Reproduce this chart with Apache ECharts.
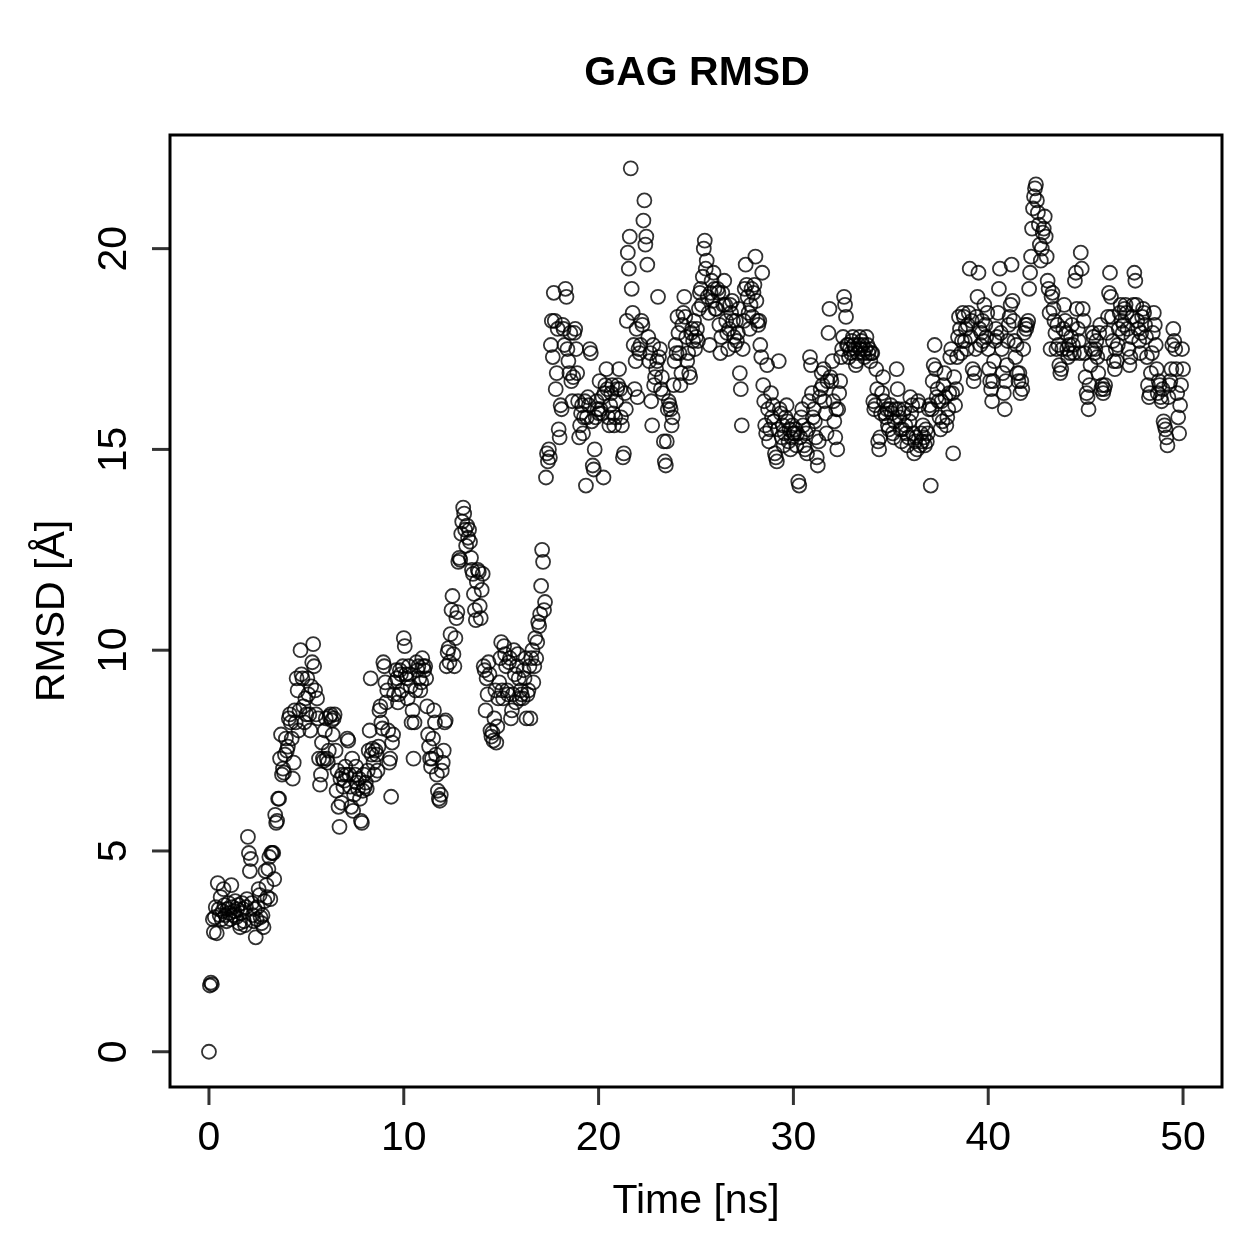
<!DOCTYPE html>
<html lang="en">
<head>
    <meta charset="UTF-8">
    <title>GAG RMSD</title>
    <script src="https://cdn.jsdelivr.net/npm/echarts@6/dist/echarts.min.js"></script>
    <style>
        html, body { margin: 0; padding: 0; background: #fff; }
    </style>
</head>
<body>
<div id="main" style="width: 1259px;height:1259px;"></div>
<script type="text/javascript">

    // one frame every 0.05 ns, first frame at t = 0
    var timeStep = 0.05;
    var xTicks = [0, 10, 20, 30, 40, 50];
    var yTicks = [0, 5, 10, 15, 20];

    // RMSD [A], one row per ns
    var rmsd = [0,
        1.65, 1.72, 1.68, 3.30, 2.98, 3.35, 3.60, 2.95, 4.20, 3.55, 3.40, 3.85, 3.30, 3.50, 4.05, 3.65, 3.40, 3.25, 3.55, 3.70,
        3.45, 3.30, 4.15, 3.60, 3.40, 3.50, 3.75, 3.35, 3.55, 3.65, 3.20, 3.10, 3.45, 3.70, 3.55, 3.25, 3.15, 3.60, 3.80, 5.35,
        4.95, 4.50, 4.80, 3.70, 3.40, 3.25, 3.55, 2.85, 3.30, 3.60, 4.05, 3.90, 3.35, 3.20, 3.40, 3.10, 3.75, 4.50, 4.15, 3.85,
        4.55, 4.85, 3.80, 4.95, 4.95, 4.95, 4.30, 5.90, 5.70, 5.75, 6.30, 6.30, 7.30, 7.90, 6.90, 7.05, 6.95, 7.40, 7.80, 7.50,
        7.60, 8.30, 8.40, 8.20, 7.80, 6.80, 7.20, 8.50, 8.20, 9.30, 9.00, 8.00, 8.50, 10.00, 9.40, 9.30, 8.60, 8.20, 8.80, 8.40,
        9.30, 8.90, 8.40, 8.00, 9.10, 9.70, 10.15, 9.60, 9.00, 8.40, 8.80, 8.30, 7.30, 6.65, 6.90, 7.70, 7.30, 7.25, 8.00, 8.30,
        7.30, 7.20, 7.50, 8.35, 8.40, 8.25, 7.90, 8.30, 8.40, 7.50, 6.50, 7.00, 6.10, 5.60, 6.80, 6.20, 6.90, 6.60, 6.75, 7.10,
        6.90, 7.80, 7.75, 6.90, 6.60, 6.10, 7.30, 6.00, 6.40, 6.90, 7.10, 6.70, 6.55, 6.80, 6.30, 5.75, 5.70, 6.50, 6.90, 6.60,
        6.70, 6.55, 7.00, 7.50, 8.00, 9.30, 7.40, 7.55, 7.20, 6.90, 7.50, 7.40, 7.00, 7.60, 8.50, 8.60, 8.20, 8.05, 9.70, 9.60,
        9.20, 8.70, 9.00, 8.00, 7.20, 7.30, 6.35, 7.70, 7.90, 8.90, 9.20, 9.50, 9.30, 8.70, 8.90, 9.50, 9.40, 9.00, 9.60, 10.30,
        10.10, 9.40, 9.30, 8.80, 9.60, 9.40, 9.10, 8.20, 8.50, 7.30, 8.20, 9.00, 9.70, 9.50, 9.60, 9.30, 9.00, 9.20, 9.80, 9.60,
        9.50, 9.60, 9.30, 8.60, 7.90, 7.60, 7.30, 7.10, 7.30, 7.80, 8.50, 8.20, 7.40, 6.90, 6.50, 6.30, 6.25, 6.40, 7.00, 7.20,
        7.50, 8.20, 8.25, 9.60, 9.95, 10.05, 9.70, 10.40, 11.00, 11.35, 9.90, 9.60, 10.30, 10.80, 10.95, 12.20, 12.30, 12.25, 12.90, 13.20,
        13.55, 13.40, 13.00, 12.60, 13.10, 12.80, 13.00, 12.70, 12.30, 12.00, 11.90, 11.40, 11.00, 10.75, 11.70, 12.00, 11.95, 11.10, 10.80, 11.50,
        11.90, 9.60, 9.50, 8.50, 9.30, 8.90, 9.70, 9.40, 8.00, 7.85, 7.95, 7.75, 8.30, 9.00, 7.70, 8.10, 8.80, 9.20, 9.80, 10.20,
        9.00, 8.80, 10.10, 9.90, 9.60, 9.00, 8.90, 9.70, 9.80, 8.30, 8.50, 8.90, 10.00, 9.40, 8.70, 9.60, 9.90, 9.30, 8.80, 9.00,
        8.90, 8.80, 9.50, 9.30, 9.80, 8.30, 8.90, 9.00, 9.60, 8.30, 9.80, 10.00, 9.20, 9.60, 10.30, 9.80, 10.20, 10.70, 10.60, 10.90,
        11.60, 12.50, 12.20, 11.00, 11.20, 14.30, 14.90, 14.70, 15.00, 14.80, 17.60, 18.20, 17.30, 18.90, 18.20, 16.50, 16.90, 18.00, 15.50, 15.30,
        16.10, 16.00, 18.10, 18.00, 17.60, 19.00, 18.80, 17.50, 17.20, 16.90, 17.90, 16.70, 16.20, 16.80, 17.90, 18.00, 17.50, 16.90, 16.20, 15.30,
        15.60, 15.90, 16.10, 15.40, 15.80, 16.20, 14.10, 15.80, 16.30, 16.10, 17.50, 17.40, 15.70, 14.60, 14.50, 15.00, 15.80, 16.20, 16.00, 15.90,
        16.70, 16.00, 15.90, 16.30, 14.30, 16.40, 16.60, 17.00, 16.50, 15.80, 15.60, 16.10, 16.40, 16.60, 15.90, 15.60, 15.80, 16.20, 16.50, 16.60,
        17.00, 16.50, 15.80, 15.60, 14.80, 14.90, 16.40, 16.00, 18.20, 19.90, 19.50, 20.30, 22.00, 19.00, 18.40, 17.60, 16.50, 17.20, 18.00, 16.30,
        17.50, 17.40, 17.60, 18.20, 18.10, 20.70, 21.20, 20.10, 20.30, 19.60, 17.80, 17.20, 17.40, 16.20, 15.60, 17.60, 16.60, 16.80, 17.00, 17.20,
        18.80, 17.30, 17.50, 16.50, 16.80, 16.40, 15.20, 14.70, 14.60, 15.20, 16.00, 16.20, 16.10, 16.00, 15.60, 15.80, 16.60, 17.20, 17.60, 17.40,
        18.30, 17.90, 17.40, 16.60, 16.90, 18.10, 18.40, 18.80, 18.30, 17.80, 17.20, 17.40, 16.90, 16.80, 17.90, 18.00, 17.70, 18.20, 17.50, 17.80,
        18.00, 17.70, 18.50, 18.90, 19.00, 18.60, 19.30, 20.00, 20.20, 19.50, 19.70, 18.80, 18.40, 17.60, 18.90, 19.20, 18.70, 19.40, 19.00, 18.50,
        18.50, 19.00, 18.90, 18.10, 17.40, 17.80, 18.90, 18.60, 19.20, 18.60, 18.20, 17.90, 17.50, 18.00, 18.60, 18.40, 18.70, 18.20, 17.80, 17.60,
        18.20, 17.70, 17.90, 18.50, 16.90, 16.50, 15.60, 17.50, 18.20, 19.00, 19.60, 19.10, 18.80, 18.40, 18.00, 18.60, 19.00, 18.30, 18.90, 19.10,
        19.80, 18.70, 18.20, 18.10, 18.20, 17.60, 17.30, 19.40, 16.60, 16.20, 15.60, 15.40, 17.10, 16.00, 15.20, 15.50, 16.40, 15.80, 16.10, 15.70,
        14.90, 14.80, 14.70, 15.50, 17.20, 16.00, 15.90, 15.30, 15.60, 15.10, 15.40, 15.80, 16.10, 15.70, 15.20, 15.50, 15.00, 15.30, 15.60, 15.40,
        15.40, 15.50, 15.10, 15.40, 14.20, 14.10, 15.30, 15.80, 16.00, 15.60, 15.10, 15.00, 15.40, 14.90, 15.50, 16.20, 17.30, 17.10, 16.40, 15.80,
        16.00, 15.70, 15.30, 14.80, 14.60, 15.20, 16.30, 16.50, 16.90, 16.60, 17.00, 16.20, 15.90, 15.40, 16.70, 17.90, 18.50, 16.80, 16.70, 17.20,
        16.20, 15.70, 15.30, 16.00, 15.00, 16.00, 16.40, 16.70, 17.30, 17.50, 17.80, 18.80, 18.60, 18.30, 17.60, 17.60, 17.30, 17.50, 17.40, 17.70,
        17.80, 17.60, 17.50, 17.10, 17.20, 17.40, 17.60, 17.80, 17.50, 17.70, 17.60, 17.40, 17.30, 17.50, 17.80, 17.60, 17.40, 17.50, 17.20, 17.40,
        17.40, 16.20, 16.00, 16.10, 17.00, 16.50, 15.20, 15.00, 15.30, 15.90, 16.40, 16.80, 16.20, 15.90, 15.80, 16.00, 15.60, 15.50, 16.00, 16.10,
        15.90, 15.40, 15.30, 15.70, 16.00, 17.00, 16.50, 16.00, 15.80, 15.50, 15.20, 15.50, 15.90, 16.00, 15.60, 15.40, 15.10, 15.30, 15.70, 16.30,
        15.90, 16.10, 15.40, 14.90, 15.20, 15.30, 15.00, 16.20, 16.10, 15.10, 15.40, 15.20, 15.60, 15.30, 15.10, 15.50, 15.20, 15.40, 16.00, 16.10,
        14.10, 16.00, 16.70, 17.10, 17.60, 17.00, 16.30, 16.50, 16.20, 15.80, 15.50, 16.20, 15.70, 16.60, 16.90, 16.30, 15.60, 15.80, 16.00, 16.40,
        17.30, 17.50, 16.40, 14.90, 16.80, 16.10, 16.50, 17.30, 17.80, 18.30, 18.00, 17.40, 17.70, 18.40, 18.30, 17.70, 18.00, 17.50, 18.10, 18.40,
        19.50, 17.80, 18.20, 17.00, 16.70, 16.90, 17.50, 18.30, 18.80, 19.40, 18.00, 17.60, 17.90, 18.20, 17.70, 18.60, 18.10, 17.80, 18.40, 17.50,
        17.00, 16.70, 16.50, 16.20, 16.70, 17.20, 17.70, 18.00, 17.80, 18.40, 19.00, 19.50, 17.90, 17.50, 16.90, 16.40, 16.00, 16.70, 17.10, 17.70,
        18.10, 18.30, 18.60, 19.60, 18.70, 18.20, 17.70, 17.30, 17.60, 16.90, 16.70, 16.90, 16.40, 16.70, 16.50, 17.50, 17.90, 18.10, 18.00, 18.10,
        18.20, 19.00, 19.40, 19.80, 20.50, 21.00, 21.30, 21.50, 21.60, 21.20, 20.90, 20.60, 20.10, 19.70, 20.00, 20.40, 20.50, 20.80, 20.30, 19.80,
        19.20, 19.00, 18.40, 17.50, 18.80, 18.90, 18.50, 18.20, 17.90, 17.50, 18.10, 17.60, 17.10, 16.90, 17.00, 17.50, 18.00, 18.60, 18.20, 17.90,
        17.50, 17.30, 17.60, 17.40, 17.80, 18.10, 17.60, 17.40, 19.20, 19.40, 18.50, 18.00, 17.70, 17.40, 19.90, 19.50, 18.50, 18.20, 17.40, 16.80,
        16.40, 16.30, 16.00, 16.60, 17.10, 17.50, 17.90, 17.80, 17.40, 17.50, 17.70, 17.30, 16.90, 17.90, 18.10, 16.50, 16.60, 16.40, 16.50, 16.60,
        17.40, 17.90, 18.30, 18.90, 19.40, 18.80, 18.30, 17.70, 17.20, 17.00, 17.50, 17.20, 17.60, 18.00, 18.40, 18.60, 18.20, 17.90, 18.10, 18.50,
        18.60, 18.40, 18.00, 17.50, 17.10, 17.30, 17.80, 18.30, 18.60, 19.40, 19.20, 18.60, 18.20, 18.00, 17.70, 17.40, 17.90, 18.30, 18.50, 18.40,
        18.10, 17.80, 17.30, 16.60, 16.30, 16.40, 16.90, 17.40, 17.90, 18.40, 18.10, 17.60, 17.00, 16.40, 16.70, 16.60, 16.30, 16.20, 16.50, 15.70,
        15.60, 15.50, 15.30, 15.10, 16.30, 16.60, 16.70, 17.00, 17.60, 18.00, 17.70, 17.50, 17.00, 16.40, 15.80, 15.40, 16.10, 16.60, 17.50, 17.00
    ];

    var points = [];
    for (var i = 0; i < rmsd.length; i++) {
        points.push([i * timeStep, rmsd[i]]);
    }

    var font = 'Liberation Sans, Arial, Helvetica, sans-serif';
    var xRange = { min: -2, max: 52 };
    var yRange = { min: -0.878, max: 22.83 };
    var tickLen = 18;

    // tick marks: short bars hanging off the box edges at the tick values
    var xTickMarks = xTicks.map(function (v) { return [v, yRange.min]; });
    var yTickMarks = yTicks.map(function (v) { return [xRange.min, v]; });

    var myChart = echarts.init(document.getElementById('main'));

    var option = {
        animation: false,
        backgroundColor: '#fff',
        title: {
            text: 'GAG RMSD',
            left: 692,
            top: 48,
            textAlign: 'center',
            textStyle: { fontFamily: font, fontSize: 41, fontWeight: 'bold', color: '#000' }
        },
        grid: {
            left: 170, right: 37, top: 135, bottom: 172,
            show: true, borderColor: '#000', borderWidth: 3, backgroundColor: 'transparent'
        },
        xAxis: {
            type: 'value',
            min: xRange.min, max: xRange.max,
            name: 'Time [ns]',
            nameLocation: 'middle',
            nameGap: 94,
            nameTextStyle: { fontFamily: font, fontSize: 41, color: '#000' },
            axisLine: { show: false, onZero: false },
            axisTick: { show: false },
            axisLabel: { fontFamily: font, fontSize: 41, color: '#000', margin: 31, customValues: xTicks },
            splitLine: { show: false }
        },
        yAxis: {
            type: 'value',
            min: yRange.min, max: yRange.max,
            name: 'RMSD [Å]',
            nameLocation: 'middle',
            nameGap: 97,
            nameRotate: 90,
            nameTextStyle: { fontFamily: font, fontSize: 41, color: '#000' },
            axisLine: { show: false, onZero: false },
            axisTick: { show: false },
            axisLabel: { fontFamily: font, fontSize: 41, color: '#000', margin: 35, rotate: 90, customValues: yTicks },
            splitLine: { show: false }
        },
        series: [{
            name: 'RMSD',
            type: 'scatter',
            data: points,
            symbol: 'circle',
            symbolSize: 14,
            itemStyle: { color: 'rgba(0,0,0,0)', borderColor: '#000', borderWidth: 1.8 }
        }, {
            name: 'xTicks',
            type: 'scatter',
            data: xTickMarks,
            silent: true,
            clip: false,
            symbol: 'rect',
            symbolSize: [3, tickLen],
            symbolOffset: [0, tickLen / 2],
            itemStyle: { color: '#000' }
        }, {
            name: 'yTicks',
            type: 'scatter',
            data: yTickMarks,
            silent: true,
            clip: false,
            symbol: 'rect',
            symbolSize: [tickLen, 3],
            symbolOffset: [-tickLen / 2, 0],
            itemStyle: { color: '#000' }
        }]
    };

    myChart.setOption(option);

</script>
</body>
</html>
